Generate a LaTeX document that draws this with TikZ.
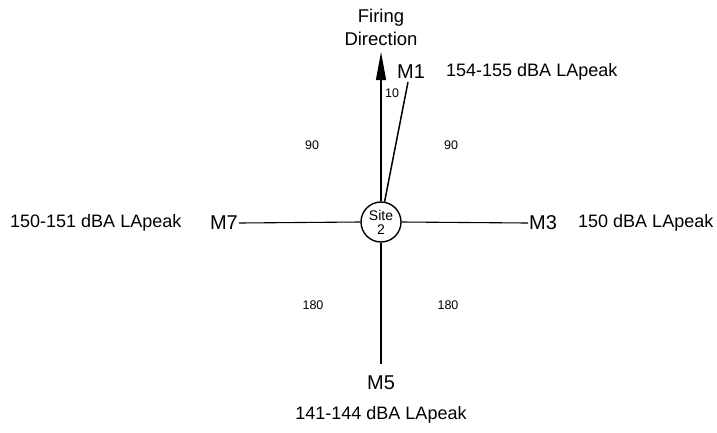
\documentclass[tikz,border=0pt]{standalone}
\usepackage{fontspec}
\setmainfont{Liberation Sans}
\usetikzlibrary{arrows.meta}
\begin{document}
\begin{tikzpicture}[x=1pt,y=-1pt,
  mlabel/.style={font=\fontsize{20}{22}\selectfont,inner sep=1pt},
  vlabel/.style={font=\fontsize{18}{20}\selectfont,inner sep=0pt},
  angl/.style={font=\fontsize{12.5}{14}\selectfont,inner sep=0pt},
  ray/.style={line width=1.1pt}]
\useasboundingbox (0,0) rectangle (717,432);
\node[draw,circle,line width=1.4pt,minimum size=40pt,inner sep=0pt,align=center,
  font=\fontsize{14}{15}\selectfont] (site) at (381,222) {Site\\[-1pt]2};
\node[font=\fontsize{18.5}{23}\selectfont,align=center] (fire) at (381,27.5) {Firing\\Direction};
\coordinate (tip) at (381,52);
\coordinate (m1end) at (408,82);
\coordinate (m5end) at (381,364);
\node[mlabel,anchor=west] (M1) at (396,72) {M1};
\node[vlabel,anchor=west] (v1) at (446,72) {154-155 dBA LApeak};
\node[mlabel,anchor=east] (M7) at (239,223) {M7};
\node[vlabel,anchor=west] (v7) at (10,223) {150-151 dBA LApeak};
\node[mlabel,anchor=west] (M3) at (528,223) {M3};
\node[vlabel,anchor=west] (v3) at (578,223) {150 dBA LApeak};
\node[mlabel] (M5) at (381,383) {M5};
\node[vlabel] (v5) at (381,415) {141-144 dBA LApeak};
\node[angl] (a10) at (392,93) {10};
\node[angl] (a90l) at (312,145) {90};
\node[angl] (a90r) at (451,145) {90};
\node[angl] (a180l) at (313,305) {180};
\node[angl] (a180r) at (448,305) {180};
\draw[ray,-{Triangle[length=28pt,width=10pt]}] (site.north) -- (tip);
\draw[ray,line width=1.5pt] (site.80) -- (m1end);
\draw[ray] (M7.east) -- (site.west);
\draw[ray] (site.east) -- (M3.west);
\draw[ray] (site.south) -- (m5end);
\end{tikzpicture}
\end{document}
